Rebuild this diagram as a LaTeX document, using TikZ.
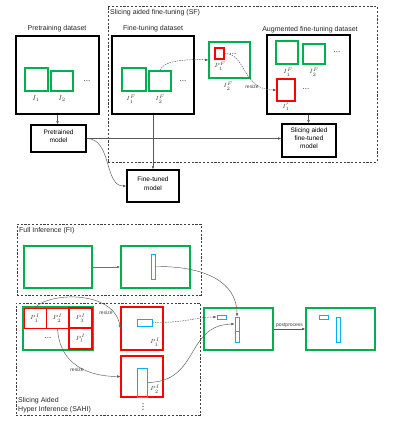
\documentclass[tikz,border=0pt]{standalone}
\usepackage{fontspec}
\setmainfont{Liberation Sans}
\newfontfamily\dvfont{DejaVu Sans}
\usetikzlibrary{fit,arrows.meta}
\definecolor{gr}{RGB}{0,176,80}
\definecolor{rd}{RGB}{255,0,0}
\definecolor{bl}{RGB}{0,176,240}
\definecolor{ln}{RGB}{90,90,90}
\tikzset{
  lab/.style={font=\fontsize{7}{8.4}\selectfont, inner sep=0, text=black!85},
  dotlab/.style={font=\fontsize{8}{8}\selectfont, inner sep=0, text=black!85},
  mlab/.style={font=\fontsize{7}{8}\selectfont, inner sep=0, text=black!75},
  plab/.style={font=\fontsize{6}{7}\selectfont, inner sep=0, text=black!75},
  slab/.style={font=\fontsize{5}{6}\selectfont, inner sep=0, text=black!75},
  bbox/.style={draw=black, line width=1.4pt, inner sep=0, align=center, font=\fontsize{6.5}{8.4}\selectfont},
  gbox/.style={draw=gr, line width=1.2pt, inner sep=0},
  rbox/.style={draw=rd, line width=1.2pt, inner sep=0},
  rcell/.style={draw=rd, line width=0.8pt, inner sep=0},
  bbar/.style={draw=bl, line width=0.9pt, inner sep=0},
  dbox/.style={draw=black!75, dashed, dash pattern=on 2.2pt off 1.6pt, line width=0.7pt, inner sep=0},
  arr/.style={draw=ln, line width=0.45pt, -{Latex[length=3.2pt,width=2.6pt]}},
  darr/.style={arr, dash pattern=on 1.5pt off 1pt},
}
\begin{document}
\begin{tikzpicture}[x=1pt,y=-1pt]
\fill[white] (0,0) rectangle (406,423);
\useasboundingbox (0,0) rectangle (406,423);

% ---------- Pretraining ----------
\node[lab] (ptt) at (57,29) {Pretraining dataset};
\node[bbox, fit={(16,36) (99,114)}] (pre) {};
\node[gbox, fit={(25,68) (48,91)}] (pi1) {};
\node[gbox, fit={(51,71) (73,91)}] (pi2) {};
\node[dotlab] (pdots) at (87,81) {...};
\node[mlab] (pl1) at (36,99) {$I_1$};
\node[mlab] (pl2) at (62,99) {$I_2$};
\node[bbox, fit={(31,125) (86,152)}] (pm) {Pretrained\\model};

% ---------- SF ----------
\node[dbox, fit={(108,6) (377,162)}] (sf) {};
\node[lab, anchor=west] (sft) at (110,13) {Slicing aided fine-tuning (SF)};
\node[lab] (ftt) at (153,29) {Fine-tuning dataset};
\node[bbox, fit={(112,36) (194,114)}] (ft) {};
\node[gbox, fit={(122,68) (146,91)}] (fi1) {};
\node[gbox, fit={(149,71) (171,91)}] (fi2) {};
\node[dotlab] (fdots) at (183,81) {...};
\node[plab] (fl1) at (131,99) {$I_1^F$};
\node[plab] (fl2) at (160,99) {$I_2^F$};

\node[gbox, fit={(209,42) (250,78)}] (pb) {};
\node[rbox, fit={(215,48) (224,59)}] (pr) {};
\node[dotlab] (pbdots) at (233,54) {...};
\node[plab] (prl) at (220,66) {$P_1^F$};
\node[plab] (pbl) at (228,86) {$I_2^F$};

\node[lab] (augt) at (310,30) {Augmented fine-tuning dataset};
\node[bbox, fit={(267,35) (350,114)}] (aug) {};
\node[gbox, fit={(276,41) (298,64)}] (ag1) {};
\node[gbox, fit={(303,44) (325,64)}] (ag2) {};
\node[dotlab] (agdots) at (337,52) {...};
\node[plab] (agl1) at (288,72) {$I_1^F$};
\node[plab] (agl2) at (314,72) {$I_2^F$};
\node[rbox, fit={(277,79) (295,101)}] (ar) {};
\node[dotlab] (ardots) at (306,89) {...};
\node[plab] (arl) at (286,107) {$I_1^{\prime}$};

\node[bbox, fit={(282,124) (336,157)}] (safm) {Slicing aided\\fine-tuned\\model};
\node[bbox, fit={(127,170) (179,202)}] (ftm) {Fine-tuned\\model};

% SF connectors
\draw[arr] (pre.south) -- (pre.south |- pm.north);
\draw[arr] (ft.south) -- (ft.south |- ftm.north);
\draw[arr] (pm.east) -- (pm.east -| safm.west);
\draw[arr] (pm.east) .. controls (112,138.5) and (104,186) .. (ftm.west);
\draw[darr] (fi2.north) .. controls (163,60) and (190,59) .. (pb.west);
\draw[darr] (pr.east) .. controls (246,53) and (242,90) .. (ar.west);
\node[slab] (rs1) at (252,87) {resize};
\draw[arr] (aug.south) -- (aug.south |- safm.north);

% ---------- FI ----------
\node[dbox, fit={(17,224) (201,295)}] (fi) {};
\node[lab, anchor=west] (fit) at (19,231) {Full Inference (FI)};
\node[gbox, fit={(24,246) (92,288)}] (fa) {};
\node[gbox, fit={(121,246) (190,288)}] (fb) {};
\node[bbar, fit={(151,254) (155,279)}] (fbar) {};
\draw[arr, line width=0.8pt, draw=black!55] (fa) -- (fb);

% ---------- SAHI ----------
\node[dbox, fit={(16,303) (200,415)}] (sahi) {};
\node[lab, anchor=south west, align=left] (saht) at (18,413) {Slicing Aided\\Hyper Inference (SAHI)};
\node[gbox, fit={(23,307) (93,350)}] (grid) {};
\node[rcell, fit={(24,308) (46,328)}] (c1) {};
\node[rcell, fit={(46,308) (69,328)}] (c2) {};
\node[rcell, line width=1.3pt, fit={(69,308) (92,328)}] (c3) {};
\node[rcell, line width=1.3pt, fit={(69,328) (92,349)}] (c4) {};
\node[plab] (c1l) at (c1.center) {$P_1^I$};
\node[plab] (c2l) at (c2.center) {$P_2^I$};
\node[plab] (c3l) at (c3.center) {$P_3^I$};
\node[plab] (c4l) at (c4.center) {$P_l^I$};
\node[dotlab] (gdots) at (48,338) {...};

\node[rbox, fit={(121,307) (163,350)}] (r1) {};
\node[bbar, fit={(137,319) (152,326)}] (b1) {};
\node[plab] (r1l) at (155,342) {$P_1^I$};
\node[rbox, fit={(121,356) (163,397)}] (r2) {};
\node[bbar, fit={(137,368) (147,397)}] (b2) {};
\node[plab] (r2l) at (155,389) {$P_2^I$};
\node[font=\dvfont\fontsize{8}{8}\selectfont, inner sep=0] (vd) at (143,407) {⋮};

\node[gbox, fit={(204,308) (273,350)}] (mg) {};
\node[bbar, fit={(217,315) (226,319)}] (ms) {};
\node[bbar, fit={(235,317) (239,331)}] (mt1) {};
\node[bbar, fit={(235,331) (239,342)}] (mt2) {};

\node[gbox, fit={(306,308) (375,350)}] (fn) {};
\node[bbar, fit={(319,315) (328,319)}] (fs) {};
\node[bbar, fit={(336,317) (340,342)}] (ftl) {};

% inference connectors
\draw[arr] (fbar.east) .. controls (205,266) and (237,282) .. (mt1.north);
\draw[arr] (c1.north) .. controls (50,292) and (114,290) .. (r1.west);
\node[slab] (rs2) at (106,313) {resize};
\draw[arr] (c2.south) .. controls (60,372) and (100,376.5) .. (r2.west);
\node[slab] (rs3) at (77,370) {resize};
\draw[darr] (b1.east) .. controls (186,323) and (196,317) .. (ms.west);
\draw[arr] (b2.east) .. controls (200,382) and (185,325) .. (mt1.west);
\draw[arr, line width=0.6pt] (mg.east) -- node[slab, above=1.5pt] (pp) {postprocess} (fn.west);
\end{tikzpicture}
\end{document}
